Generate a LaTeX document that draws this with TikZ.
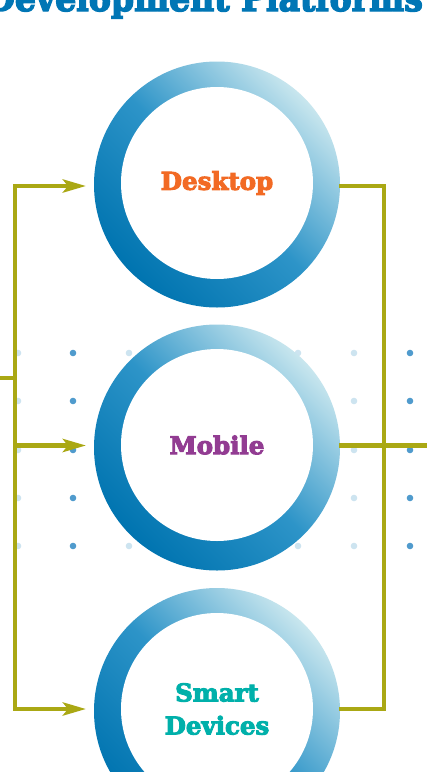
\documentclass[tikz,border=0pt]{standalone}
\usepackage{fontspec}
\setmainfont{DejaVu Serif}
\newfontfamily\heavyfont{DejaVu Serif}[BoldFeatures={FakeBold=4}]
\usetikzlibrary{arrows.meta,calc}
\definecolor{olivec}{RGB}{170,168,20}
\definecolor{ringdark}{RGB}{0,116,176}
\definecolor{ringmid}{RGB}{45,148,200}
\definecolor{ringlight}{RGB}{200,230,238}
\definecolor{dotdark}{RGB}{80,155,205}
\definecolor{dotlight}{RGB}{205,228,240}
\definecolor{titleblue}{RGB}{0,118,181}
\definecolor{orangec}{RGB}{242,106,36}
\definecolor{purplec}{RGB}{146,60,146}
\definecolor{tealc}{RGB}{0,176,170}
\tikzset{
  ring/.style={circle, minimum size=246pt, inner sep=0pt, draw=none,
    top color=ringlight, bottom color=ringdark, middle color=ringmid, shading angle=-45},
  hole/.style={circle, minimum size=192pt, inner sep=0pt, fill=white, align=center,
    font=\heavyfont\bfseries\fontsize{24.5}{33}\selectfont},
  flow/.style={draw=olivec, line width=4.6pt, line join=miter},
  flowarrow/.style={flow, -{Stealth[length=23pt,width=13pt,inset=5pt]}, shorten >=9pt},
  dotd/.style={fill=dotdark},
  dotl/.style={fill=dotlight}
}
\begin{document}
\begin{tikzpicture}[x=1pt,y=-1pt]
\clip (0,0) rectangle (427,772);
\fill[white] (0,0) rectangle (427,772);
% title
\node[anchor=base west, inner sep=0pt, text=titleblue, xscale=0.92, font=\heavyfont\bfseries\fontsize{36}{40}\selectfont] (title) at (-14,11) {Development Platforms};
% dots
\foreach \y in {353,401,450,498,546}{
  \foreach \x/\s in {18/dotl,73/dotd,129/dotl,185/dotl,241/dotl,298/dotl,354/dotl,410/dotd}{
    \fill[\s] (\x,\y) circle (3.3pt);
  }
}
% rings
\node[ring] (d) at (217,184.5) {};
\node[hole, text=orangec] (dt) at (217,183) {Desktop};
\node[ring] (m) at (217,447.5) {};
\node[hole, text=purplec] (mt) at (217,445) {Mobile};
\node[ring] (s) at (217,711) {};
\node[hole, text=tealc] (st) at (217,709) {Smart\\Devices};
% rails
\coordinate (lt) at (15,186);
\coordinate (lm) at (15,445.5);
\coordinate (lb) at (15,709);
\coordinate (in) at (0,378);
\coordinate (lin) at (15,378);
\coordinate (rt) at (384,186);
\coordinate (rb) at (384,709);
\coordinate (out) at (427,445.5);
\coordinate (dw) at (95,186);
\coordinate (mw) at (95,445.5);
\coordinate (sw) at (95,709);
\coordinate (de) at (339,186);
\coordinate (me) at (339,445.5);
\coordinate (se) at (339,709);
\draw[flowarrow] (lm) -- (lt) -- (dw);
\draw[flowarrow] (lm) -- (lb) -- (sw);
\draw[flowarrow] (lm) -- (mw);
\draw[flow] (in) -- (lin);
\draw[flow] (de) -- (rt) -- (rb) -- (se);
\draw[flow] (me) -- (out);
\end{tikzpicture}
\end{document}
